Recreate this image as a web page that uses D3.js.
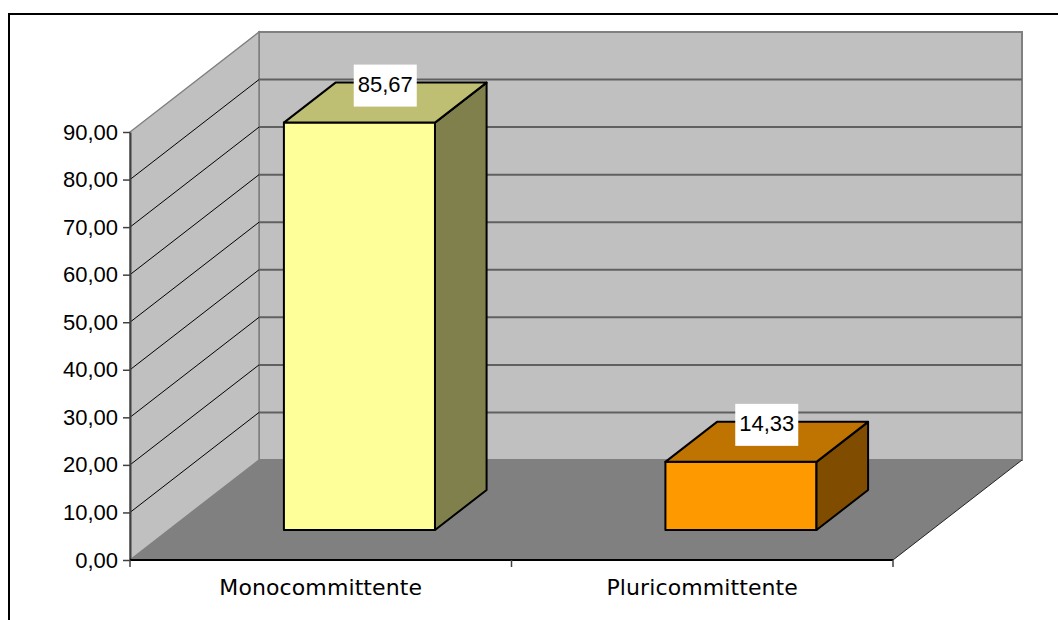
<!DOCTYPE html>
<html>
<head>
<meta charset="utf-8">
<script src="https://cdn.jsdelivr.net/npm/d3@7"></script>
<style>
  html, body { margin: 0; padding: 0; background: #ffffff; }
  svg { display: block; }
</style>
</head>
<body>
<div id="chart"></div>
<script>
// Data
const categories = ['Monocommittente', 'Pluricommittente'];
const values = [85.67, 14.33];
const yTicks = [0, 10, 20, 30, 40, 50, 60, 70, 80, 90];

// Colours per bar: front, top, side
const barColors = [
  { front: '#ffff99', top: '#bfbf73', side: '#80804d' },
  { front: '#ff9900', top: '#bf7300', side: '#804d00' }
];

const W = 1058, H = 620;
// front plane of the 3D box
const plot = { left: 130, right: 893, top: 132, bottom: 560 };
// depth offset of the back wall
const depth = { dx: 129, dy: -100 };

const svg = d3.select('#chart')
  .append('svg')
  .attr('width', W)
  .attr('height', H);

// Scales
const x = d3.scaleBand()
  .domain(categories)
  .range([plot.left, plot.right])
  .padding(0);

const y = d3.scaleLinear()
  .domain([0, 90])
  .range([plot.bottom, plot.top]);

// project a point at depth t (0 = front, 1 = back)
const P = (px, py, t) => [px + t * depth.dx, py + t * depth.dy];
const poly = pts => pts.map(p => p.join(',')).join(' ');

const yTop = y(90), y0 = y(0);

// Back wall
svg.append('polygon')
  .attr('points', poly([P(plot.left, yTop, 1), P(plot.right, yTop, 1), P(plot.right, y0, 1), P(plot.left, y0, 1)]))
  .attr('fill', '#c0c0c0')
  .attr('stroke', '#808080')
  .attr('stroke-width', 2);

// Side wall
svg.append('polygon')
  .attr('points', poly([P(plot.left, y0, 0), P(plot.left, yTop, 0), P(plot.left, yTop, 1), P(plot.left, y0, 1)]))
  .attr('fill', '#c0c0c0')
  .attr('stroke', '#808080')
  .attr('stroke-width', 1.5);

// Floor
svg.append('polygon')
  .attr('points', poly([P(plot.left, y0, 0), P(plot.right, y0, 0), P(plot.right, y0, 1), P(plot.left, y0, 1)]))
  .attr('fill', '#808080');

svg.append('line')
  .attr('x1', P(plot.right, y0, 0)[0]).attr('y1', P(plot.right, y0, 0)[1])
  .attr('x2', P(plot.right, y0, 1)[0]).attr('y2', P(plot.right, y0, 1)[1])
  .attr('stroke', '#222222')
  .attr('stroke-width', 1);

// Gridlines (side wall diagonals + back wall horizontals)
const grid = yTicks.filter(d => d > 0 && d < 90);
svg.append('g')
  .selectAll('line')
  .data(grid)
  .join('line')
  .attr('x1', plot.left)
  .attr('y1', d => y(d))
  .attr('x2', d => P(plot.left, y(d), 1)[0])
  .attr('y2', d => P(plot.left, y(d), 1)[1])
  .attr('stroke', '#000000')
  .attr('stroke-width', 1);

svg.append('g')
  .selectAll('line')
  .data(grid)
  .join('line')
  .attr('x1', d => P(plot.left, y(d), 1)[0])
  .attr('y1', d => P(plot.left, y(d), 1)[1])
  .attr('x2', d => P(plot.right, y(d), 1)[0])
  .attr('y2', d => P(plot.right, y(d), 1)[1])
  .attr('stroke', '#606060')
  .attr('stroke-width', 2);

// Y axis
const itLocale = d3.formatLocale({ decimal: ',', thousands: '.', grouping: [3], currency: ['', '€'] });
const fmt = itLocale.format('.2f');

const yAxis = svg.append('g')
  .attr('transform', `translate(${plot.left},0)`)
  .call(d3.axisLeft(y).tickValues(yTicks).tickFormat(fmt).tickSize(7).tickSizeOuter(0).tickPadding(5));
yAxis.select('.domain').attr('stroke', '#404040').attr('stroke-width', 2);
yAxis.selectAll('.tick line').attr('stroke', '#404040').attr('stroke-width', 1.5);
yAxis.selectAll('text')
  .attr('font-family', 'Liberation Sans, Arial, sans-serif')
  .attr('font-size', 22)
  .attr('fill', '#000000');

// Category axis
svg.append('line')
  .attr('x1', plot.left).attr('y1', y0)
  .attr('x2', plot.right).attr('y2', y0)
  .attr('stroke', '#000000')
  .attr('stroke-width', 2);

const bounds = categories.map(c => x(c)).concat([plot.right]);
svg.append('g')
  .selectAll('line')
  .data(bounds)
  .join('line')
  .attr('x1', d => d).attr('y1', y0)
  .attr('x2', d => d).attr('y2', y0 + 7)
  .attr('stroke', '#404040')
  .attr('stroke-width', 1.5);

svg.append('g')
  .selectAll('text')
  .data(categories)
  .join('text')
  .attr('x', d => x(d) + x.bandwidth() / 2)
  .attr('y', 595)
  .attr('text-anchor', 'middle')
  .attr('font-family', 'DejaVu Sans, Verdana, sans-serif')
  .attr('font-size', 22)
  .attr('letter-spacing', 0.1)
  .attr('fill', '#000000')
  .text(d => d);

// Bars
const barW = x.bandwidth() * 0.396;
const z0 = 0.3, z1 = 0.7;

categories.forEach((c, i) => {
  const cx = x(c) + x.bandwidth() / 2;
  const xl = cx - barW / 2, xr = cx + barW / 2;
  const yt = y(values[i]);
  const col = barColors[i];
  const g = svg.append('g');

  // front face
  g.append('polygon')
    .attr('points', poly([P(xl, y0, z0), P(xr, y0, z0), P(xr, yt, z0), P(xl, yt, z0)]))
    .attr('fill', col.front)
    .attr('stroke', '#000000')
    .attr('stroke-width', 2)
    .attr('stroke-linejoin', 'round');

  // side face
  g.append('polygon')
    .attr('points', poly([P(xr, y0, z0), P(xr, y0, z1), P(xr, yt, z1), P(xr, yt, z0)]))
    .attr('fill', col.side)
    .attr('stroke', '#000000')
    .attr('stroke-width', 2)
    .attr('stroke-linejoin', 'round');

  // top face
  g.append('polygon')
    .attr('points', poly([P(xl, yt, z0), P(xr, yt, z0), P(xr, yt, z1), P(xl, yt, z1)]))
    .attr('fill', col.top)
    .attr('stroke', '#000000')
    .attr('stroke-width', 2)
    .attr('stroke-linejoin', 'round');

  // value label
  const [lx, ly] = P(cx, yt, 0.5);
  const boxW = 63, boxH = 42;
  g.append('rect')
    .attr('x', lx - boxW / 2)
    .attr('y', ly - 38)
    .attr('width', boxW)
    .attr('height', boxH)
    .attr('fill', '#ffffff');

  g.append('text')
    .attr('x', lx)
    .attr('y', ly - 11)
    .attr('text-anchor', 'middle')
    .attr('font-family', 'Liberation Sans, Arial, sans-serif')
    .attr('font-size', 22)
    .attr('fill', '#000000')
    .text(fmt(values[i]));
});

// Outer chart border
svg.append('rect')
  .attr('x', 9)
  .attr('y', 14)
  .attr('width', 1200)
  .attr('height', 800)
  .attr('fill', 'none')
  .attr('stroke', '#000000')
  .attr('stroke-width', 2);
</script>
</body>
</html>
